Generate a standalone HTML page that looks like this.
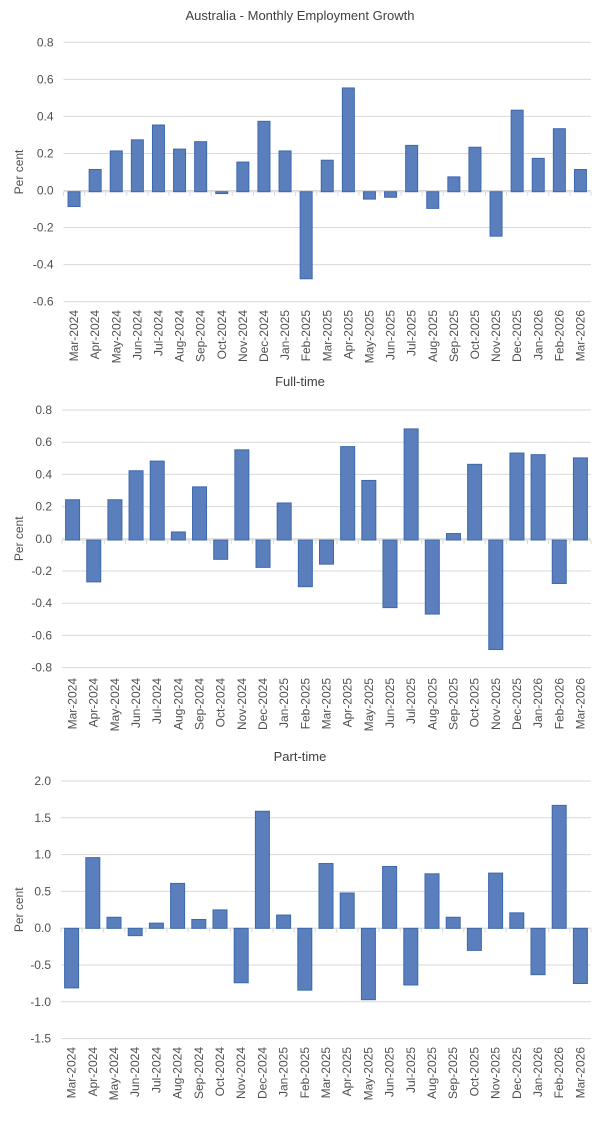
<!DOCTYPE html>
<html><head><meta charset="utf-8">
<style>
html,body{margin:0;padding:0;background:#fff;}
svg{display:block;font-family:"Liberation Sans",Arial,sans-serif;}
</style></head>
<body>
<svg id="s" width="600" height="1125" xmlns="http://www.w3.org/2000/svg"></svg>
<script>
const months=["Mar-2024","Apr-2024","May-2024","Jun-2024","Jul-2024","Aug-2024","Sep-2024","Oct-2024","Nov-2024","Dec-2024","Jan-2025","Feb-2025","Mar-2025","Apr-2025","May-2025","Jun-2025","Jul-2025","Aug-2025","Sep-2025","Oct-2025","Nov-2025","Dec-2025","Jan-2026","Feb-2026","Mar-2026"];
const charts=[
 {title:"Australia - Monthly Employment Growth",ty:20,top:42.3,zero:191.7,step:37.05,stepv:0.2,max:0.8,min:-0.6,dec:1,left:63.5,right:591,bw:12,ly:310,
  d:[-0.08,0.12,0.22,0.28,0.36,0.23,0.27,-0.01,0.16,0.38,0.22,-0.47,0.17,0.56,-0.04,-0.03,0.25,-0.09,0.08,0.24,-0.24,0.44,0.18,0.34,0.12]},
 {title:"Full-time",ty:386,top:410,zero:540,step:32.2,stepv:0.2,max:0.8,min:-0.8,dec:1,left:62,right:591,bw:14,ly:678,
  d:[0.25,-0.26,0.25,0.43,0.49,0.05,0.33,-0.12,0.56,-0.17,0.23,-0.29,-0.15,0.58,0.37,-0.42,0.69,-0.46,0.04,0.47,-0.68,0.54,0.53,-0.27,0.51]},
 {title:"Part-time",ty:761,top:781,zero:928.3,step:36.8,stepv:0.5,max:2.0,min:-1.5,dec:1,left:61,right:591,bw:14,ly:1047,
  d:[-0.81,0.96,0.15,-0.10,0.07,0.61,0.12,0.25,-0.74,1.59,0.18,-0.84,0.88,0.48,-0.97,0.84,-0.77,0.74,0.15,-0.30,0.75,0.21,-0.63,1.67,-0.75]}
];
let h="";
for(const c of charts){
 h+=`<text x="300" y="${c.ty}" font-size="13" fill="#404040" text-anchor="middle">${c.title}</text>`;
 const n=Math.round((c.max-c.min)/c.stepv);
 for(let i=0;i<=n;i++){
  const v=c.max-i*c.stepv; const y=c.top+i*c.step;
  h+=`<line x1="${c.left}" x2="${c.right}" y1="${y}" y2="${y}" stroke="#d9d9d9" stroke-width="1"/>`;
  h+=`<text x="${c.left-10}" y="${y+4}" font-size="12" fill="#505050" text-anchor="end">${v.toFixed(c.dec).replace("-0.0","0.0")}</text>`;
 }
 const mid=(c.top+c.top+n*c.step)/2;
 h+=`<text transform="translate(23,${mid}) rotate(-90)" font-size="12" fill="#505050" text-anchor="middle">Per cent</text>`;
 const cw=(c.right-c.left)/25;
 for(let i=0;i<=25;i++){const x=c.left+i*cw;h+=`<line x1="${x}" x2="${x}" y1="${c.zero}" y2="${c.zero+4}" stroke="#d9d9d9"/>`;}
 h+=`<line x1="${c.left}" x2="${c.right}" y1="${c.zero}" y2="${c.zero}" stroke="#d9d9d9"/>`;
 c.d.forEach((v,i)=>{
  const cx=c.left+(i+0.5)*cw; const pv=v/c.stepv*c.step;
  const y=v>=0?c.zero-pv:c.zero; const hh=Math.abs(pv);
  h+=`<rect x="${cx-c.bw/2}" y="${y}" width="${c.bw}" height="${hh}" fill="#5b7fbd" stroke="#3b68ad" stroke-width="1"/>`;
  h+=`<text transform="translate(${cx+4},${c.ly}) rotate(-90)" font-size="12" fill="#505050" text-anchor="end">${months[i]}</text>`;
 });
}
document.getElementById("s").innerHTML=h;
</script>
</body></html>
